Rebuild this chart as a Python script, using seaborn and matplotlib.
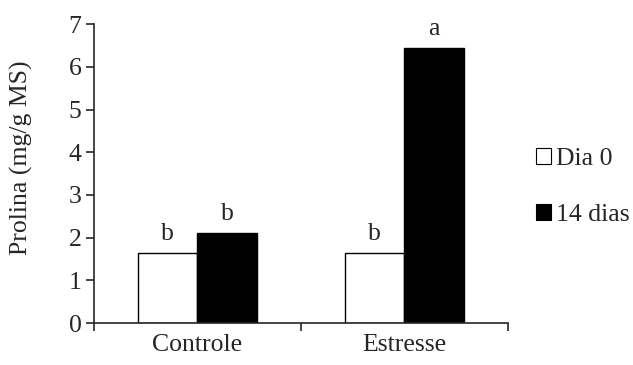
import matplotlib.pyplot as plt
from matplotlib.patches import Patch
import seaborn as sns
import pandas as pd

categories = ["Controle", "Estresse"]
series = ["Dia 0", "14 dias"]
dia0 = [1.63, 1.63]
dias14 = [2.11, 6.44]
letters_dia0 = ["b", "b"]
letters_dias14 = ["b", "a"]
yticks = [0, 1, 2, 3, 4, 5, 6, 7]

sns.set_style("ticks")
plt.rcParams['font.family'] = ['Liberation Serif', 'DejaVu Serif']
fs = 18.5

df = pd.DataFrame({
	"grupo": categories * 2,
	"serie": [series[0]] * len(categories) + [series[1]] * len(categories),
	"prolina": dia0 + dias14,
})

fig = plt.figure(figsize=(6.33, 3.65), dpi=100)
ax = fig.add_axes([0.1485, 0.115, 0.654, 0.819])

sns.barplot(data=df, x="grupo", y="prolina", hue="serie", hue_order=series,
	palette=["white", "black"], edgecolor="black", linewidth=1.0,
	width=0.575, legend=False, ax=ax)

# letras de significancia acima das barras
for container, labels in zip(ax.containers, [letters_dia0, letters_dias14]):
	ax.bar_label(container, labels=labels, padding=6, fontsize=fs)

ax.set_xlim(-0.5, 1.5)
ax.set_ylim(0, 7)
ax.set_yticks(yticks)
ax.tick_params(axis="y", direction="out", length=6, width=1.2, labelsize=fs, pad=3)
ax.tick_params(axis="x", which="major", length=0, labelsize=fs, pad=8)
ax.set_xticks([-0.5, 0.5, 1.5], minor=True)
ax.tick_params(axis="x", which="minor", direction="out", length=6, width=1.2)
ax.set_xlabel("")
ax.set_ylabel("Prolina (mg/g MS)", fontsize=fs)
ax.yaxis.set_label_coords(-0.147, 0.552)
for side in ["top", "right"]:
	ax.spines[side].set_visible(False)
for side in ["left", "bottom"]:
	ax.spines[side].set_linewidth(1.2)

handles = [Patch(facecolor="white", edgecolor="black", linewidth=0.8),
	Patch(facecolor="black", edgecolor="black", linewidth=0.8)]
fig.legend(handles, series, loc="center left", bbox_to_anchor=(0.81, 0.488),
	frameon=False, fontsize=fs, handlelength=0.6, handleheight=0.6,
	handletextpad=0.2, labelspacing=1.3)

fig.savefig("out.png", dpi=100)
